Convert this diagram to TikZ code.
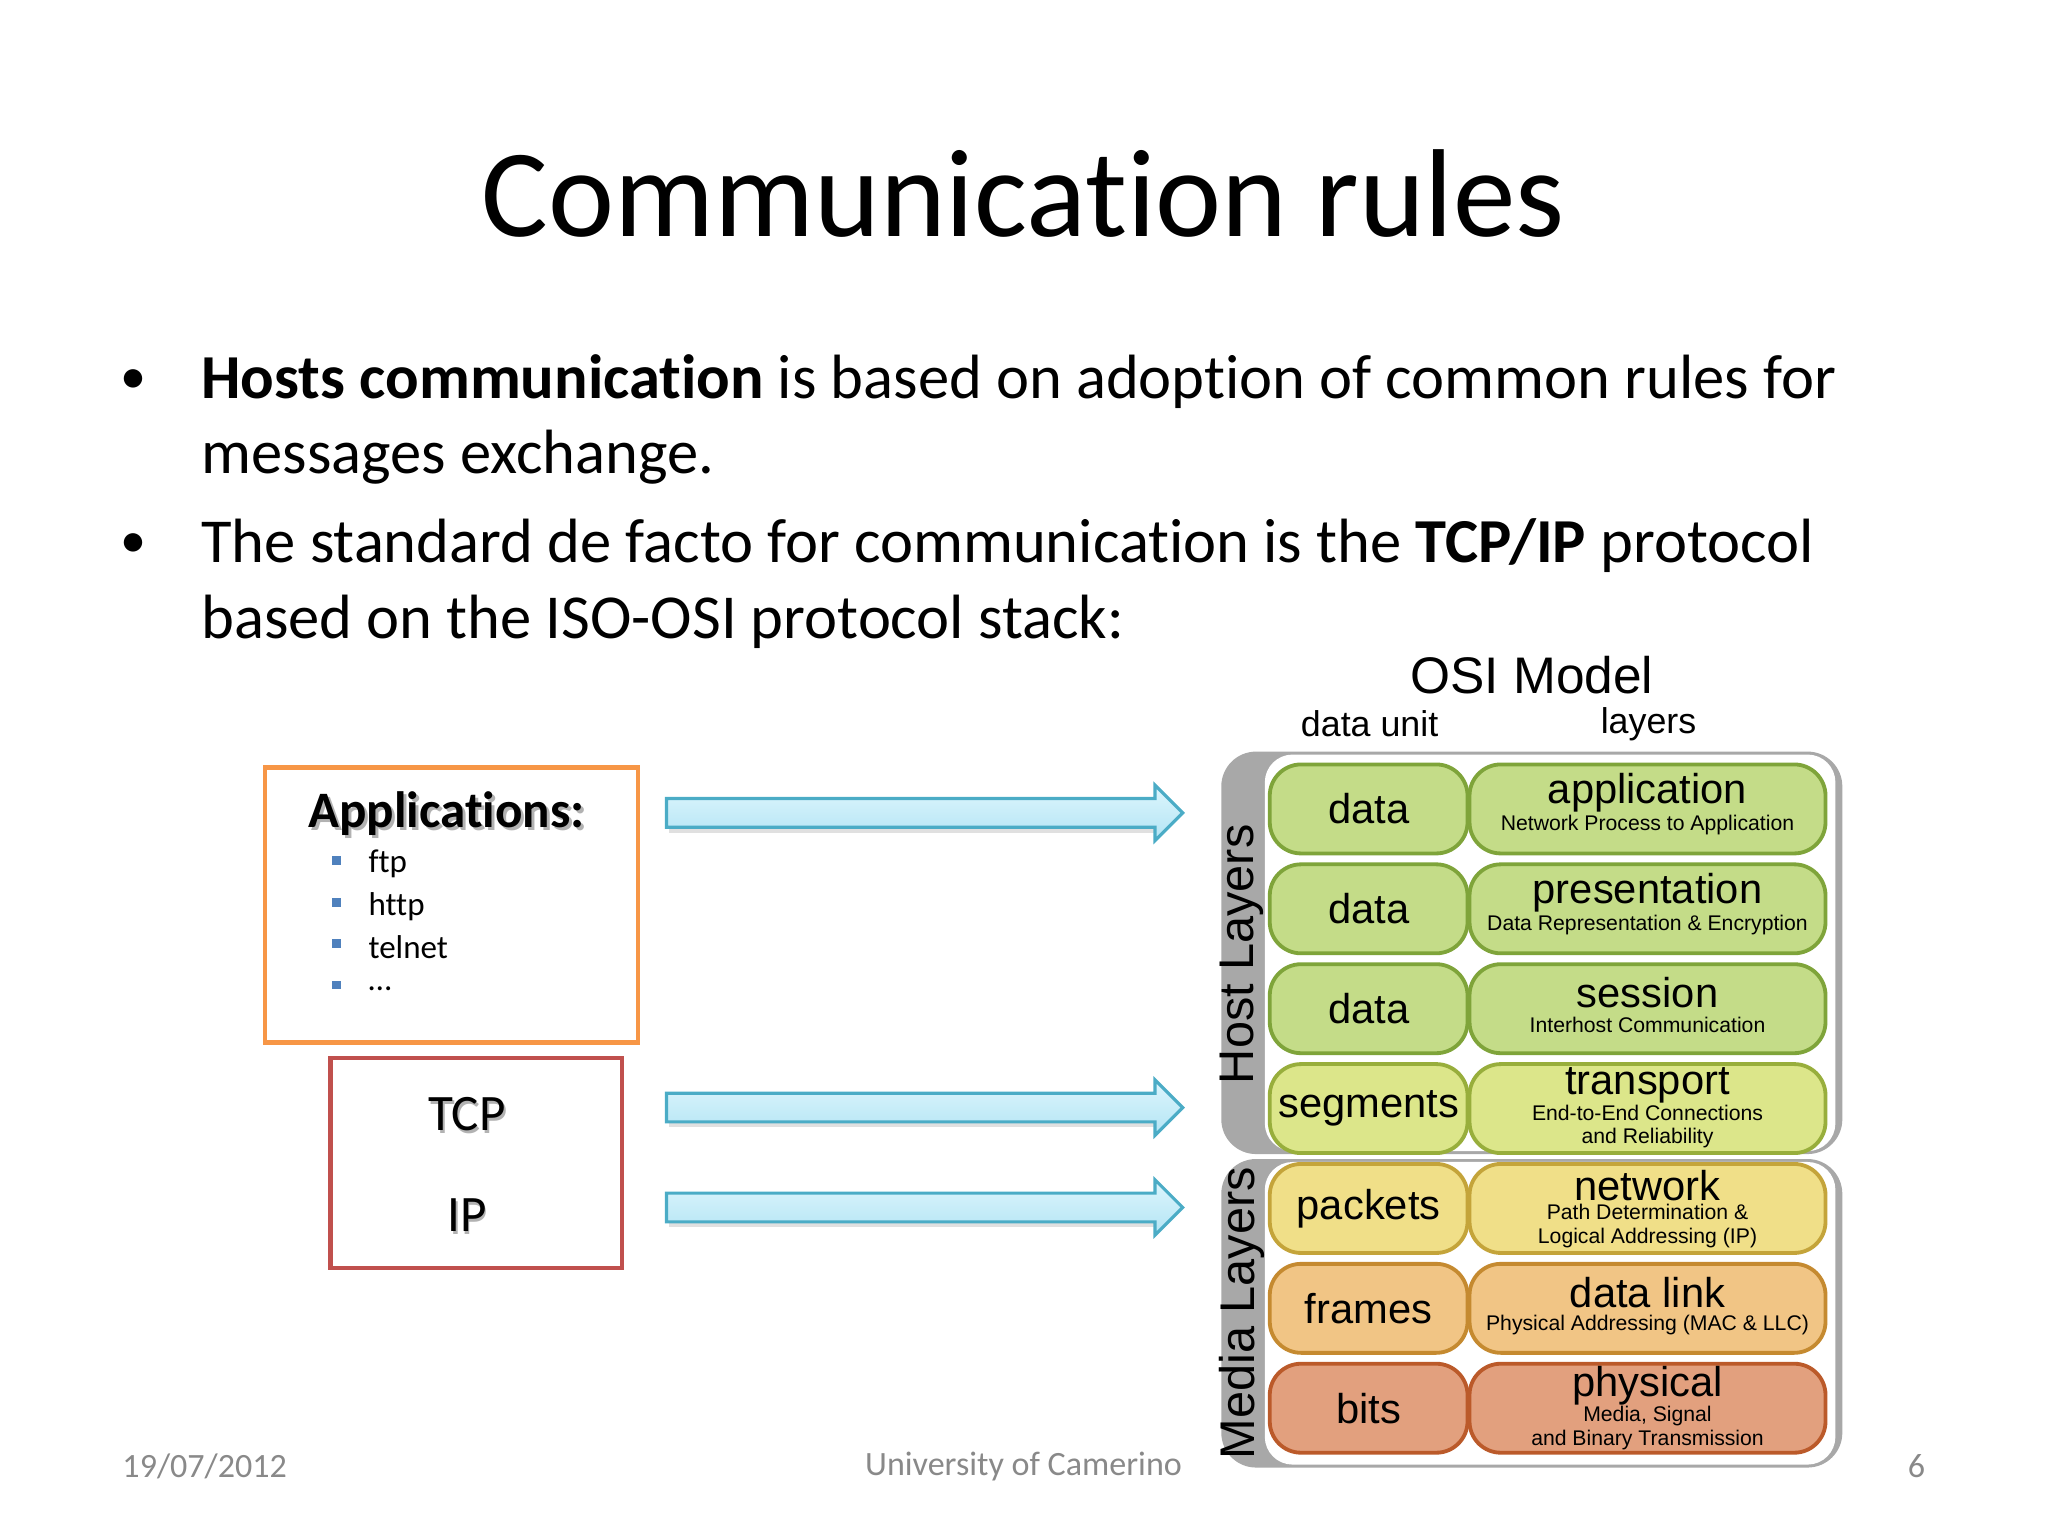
\documentclass[tikz,border=0pt]{standalone}
\usepackage{fontspec}
\setmainfont[Ligatures=NoCommon]{Carlito}
\newfontfamily\arial{Liberation Sans}
\definecolor{foot}{HTML}{898989}
\definecolor{orgb}{HTML}{F79646}
\definecolor{redb}{HTML}{C0504D}
\definecolor{blueb}{HTML}{4F81BD}
\definecolor{arrb}{HTML}{4BACC6}
\definecolor{arrt}{HTML}{DEF6FD}
\definecolor{arrbt}{HTML}{B2E4F4}
\definecolor{g1}{HTML}{C4DC88}\definecolor{g1d}{HTML}{7FA43A}
\definecolor{g2}{HTML}{DCE68A}\definecolor{g2d}{HTML}{98AE3C}
\definecolor{y1}{HTML}{F0DF88}\definecolor{y1d}{HTML}{C4A43A}
\definecolor{o1}{HTML}{F1C585}\definecolor{o1d}{HTML}{C58A30}
\definecolor{r1}{HTML}{E2A07E}\definecolor{r1d}{HTML}{BB5A2A}
\definecolor{panel}{HTML}{A8A8A8}
\tikzset{
 cell/.style={rounded corners=9, line width=1.1pt, minimum height=90*0.1mm, inner sep=0},
 unitcell/.style={cell, minimum width=200*0.1mm},
 laycell/.style={cell, minimum width=360*0.1mm},
 big/.style={font=\arial\fontsize{12}{12}\selectfont, inner sep=0},
 small/.style={font=\arial\fontsize{6.1}{6.8}\selectfont, inner sep=0, align=center},
 arr/.style={draw=arrb, line width=0.9pt, top color=arrt, bottom color=arrbt},
 bsq/.style={fill=blueb, minimum size=9*0.1mm, inner sep=0},
 item/.style={anchor=west, font=\fontsize{9.5}{10}\selectfont, inner sep=0},
 shd/.style={text=black!30, inner sep=0},
}
\begin{document}
\begin{tikzpicture}[x=0.1mm,y=-0.1mm]
\useasboundingbox (0,0) rectangle (2071,1553);
% title
\node (title) at (1035,196) {\fontsize{36}{38}\selectfont Communication rules};
% bullets
\node (b1) at (135,386) {\fontsize{15}{18}\selectfont •};
\node[anchor=west,inner sep=0] (t1) at (203,386) {\fontsize{18}{18}\selectfont \textbf{Hosts communication} is based on adoption of common rules for};
\node[anchor=west,inner sep=0] (t1b) at (203,462) {\fontsize{18}{18}\selectfont messages exchange.};
\node (b2) at (135,552) {\fontsize{15}{18}\selectfont •};
\node[anchor=west,inner sep=0] (t2) at (203,552) {\fontsize{18}{18}\selectfont The standard de facto for communication is the \textbf{TCP/IP} protocol};
\node[anchor=west,inner sep=0] (t2b) at (203,629) {\fontsize{18}{18}\selectfont based on the ISO-OSI protocol stack:};
% applications box
\draw[orgb, line width=1.3pt] (268,776) rectangle (645,1054);
\node[shd,anchor=west] at (314,826) {\fontsize{14.7}{15}\selectfont\bfseries Applications:};
\node[anchor=west,inner sep=0] (apps) at (311,823) {\fontsize{14.7}{15}\selectfont\bfseries Applications:};
\foreach \y/\t in {874/ftp,917/http,958/telnet,1000/\dots}{
  \node[bsq] at (340,\y-4) {};
  \node[item] at (372,\y) {\t};
}
% TCP/IP box
\draw[redb, line width=1.3pt] (334,1070) rectangle (629,1282);
\node[shd] at (474,1130) {\fontsize{14.7}{15}\selectfont TCP};
\node[inner sep=0] (tcp) at (472,1127) {\fontsize{14.7}{15}\selectfont TCP};
\node[shd] at (474,1232) {\fontsize{14.7}{15}\selectfont IP};
\node[inner sep=0] (ip) at (472,1229) {\fontsize{14.7}{15}\selectfont IP};
% arrows
\foreach \c in {822,1120,1221}{
  \fill[black!12] (676,\c-12) -- (1170,\c-12) -- (1170,\c+20) -- (676,\c+20) -- cycle;
  \draw[arr] (674,\c-14.5) -- (1168,\c-14.5) -- (1168,\c-28) -- (1196,\c) -- (1168,\c+28) -- (1168,\c+14.5) -- (674,\c+14.5) -- cycle;
}
% OSI header
\node (osi) at (1549,683) {\arial\fontsize{14.8}{15}\selectfont OSI Model};
\node (du) at (1385,732) {\arial\fontsize{10.3}{11}\selectfont data unit};
\node (ly) at (1667,732) {\arial\fontsize{10.3}{11}\selectfont layers};
% panels
\fill[panel, rounded corners=10] (1235,760) rectangle (1863,1167);
\fill[white, rounded corners=8] (1279,763) rectangle (1856,1164);
\fill[panel, rounded corners=10] (1235,1172) rectangle (1863,1484);
\fill[white, rounded corners=8] (1279,1175) rectangle (1856,1481);
\node[rotate=90] (host) at (1256,965) {\arial\fontsize{14}{14}\selectfont Host Layers};
\node[rotate=90] (media) at (1256,1328) {\arial\fontsize{14}{14}\selectfont Media Layers};
% rows
\foreach \k/\u/\f/\d in {0/data/g1/g1d,1/data/g1/g1d,2/data/g1/g1d,3/segments/g2/g2d,4/packets/y1/y1d,5/frames/o1/o1d,6/bits/r1/r1d}{
  \node[unitcell, fill=\f, draw=\d] (u\k) at (1384,818+101*\k) {};
  \node[big] at (u\k) {\u};
  \node[laycell, fill=\f, draw=\d] (l\k) at (1666,818+101*\k) {};
}
\node[big] at (1666,802) {application};
\node[small] at (1666,834) {Network Process to Application};
\node[big] at (1666,903) {presentation};
\node[small] at (1666,935) {Data Representation \& Encryption};
\node[big] at (1666,1004) {session};
\node[small] at (1666,1036) {Interhost Communication};
\node[big] at (1666,1098) {transport};
\node[small] at (1666,1139) {End-to-End Connections\\and Reliability};
\node[big] at (1666,1199) {network};
\node[small] at (1666,1240) {Path Determination \&\\Logical Addressing (IP)};
\node[big] at (1666,1307) {data link};
\node[small] at (1666,1340) {Physical Addressing (MAC \& LLC)};
\node[big] at (1666,1401) {physical};
\node[small] at (1666,1444) {Media, Signal\\and Binary Transmission};
% footer
\node[text=foot] (date) at (207,1483) {\fontsize{9.8}{10}\selectfont 19/07/2012};
\node[text=foot] (uni) at (1035,1483) {\fontsize{9.8}{10}\selectfont University of Camerino};
\node[text=foot] (pg) at (1938,1483) {\fontsize{9.8}{10}\selectfont 6};
\end{tikzpicture}
\end{document}
